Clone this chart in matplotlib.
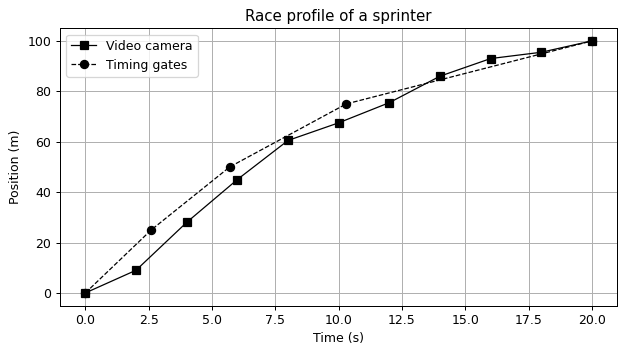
import matplotlib
matplotlib.use("Agg")
import matplotlib.pyplot as plt

# Video camera: position every 2 s
cam_time = [0, 2, 4, 6, 8, 10, 12, 14, 16, 18, 20]
cam_pos = [0, 9, 28, 45, 60.5, 67.5, 75.5, 86, 93, 95.5, 100]

# Timing gates every 25 m
gate_time = [0, 2.6, 5.7, 10.3, 20]
gate_pos = [0, 25, 50, 75, 100]

fig, ax = plt.subplots(figsize=(626 / 90, 354 / 90), dpi=90)

ax.plot(cam_time, cam_pos, "ks-", linewidth=1, markersize=6.5, label="Video camera")
ax.plot(gate_time, gate_pos, "ko--", linewidth=1, markersize=6.5, label="Timing gates")

ax.set_title("Race profile of a sprinter")
ax.set_xlabel("Time (s)")
ax.set_ylabel("Position (m)")
ax.grid(True)
ax.legend(loc="upper left")

fig.subplots_adjust(left=0.096, right=0.986, top=0.92, bottom=0.137)
fig.savefig("out.png")
